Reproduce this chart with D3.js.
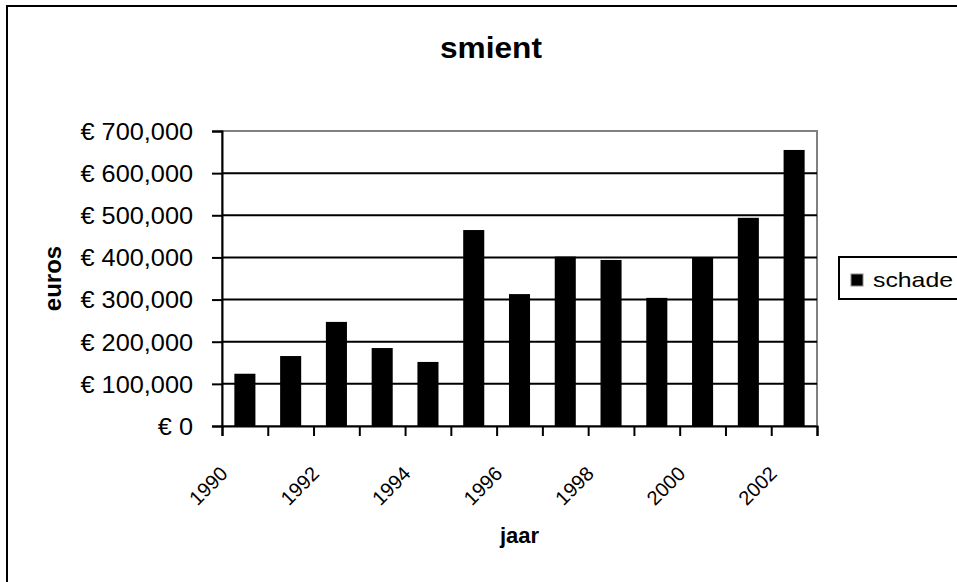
<!DOCTYPE html>
<html>
<head>
<meta charset="utf-8">
<script src="https://cdn.jsdelivr.net/npm/d3@7/dist/d3.min.js"></script>
<style>
  html, body { margin: 0; padding: 0; background: #fff; }
  svg { display: block; font-family: "Liberation Sans", Arial, sans-serif; }
</style>
</head>
<body>
<svg id="chart" width="957" height="582"></svg>
<script>
// ---- data ----
const years = ["1990","1991","1992","1993","1994","1995","1996","1997","1998","1999","2000","2001","2002"];
const schade = [124000, 166000, 247000, 185000, 152000, 465000, 313000, 402000, 394000, 304000, 401000, 494000, 655000];
const yTicks = [0, 100000, 200000, 300000, 400000, 500000, 600000, 700000];
const xLabelYears = ["1990","1992","1994","1996","1998","2000","2002"];
const titleText = "smient";
const xTitle = "jaar";
const yTitle = "euros";
const seriesName = "schade";

// ---- layout ----
const plot = { left: 222, right: 817, top: 131, bottom: 426 };
const svg = d3.select("#chart");

// outer border
svg.append("rect")
  .attr("x", 7).attr("y", 6).attr("width", 1000).attr("height", 1000)
  .attr("fill", "#fff").attr("stroke", "#000").attr("stroke-width", 2);

// scales
const x = d3.scaleBand().domain(years).range([plot.left, plot.right]).padding(0);
const xBar = d3.scaleBand().domain(years).range([plot.left, plot.right])
  .paddingInner(0.54).paddingOuter(0.27);
const xBound = d3.scaleLinear().domain([0, years.length]).range([plot.left, plot.right]);
const y = d3.scaleLinear().domain([0, 700000]).range([plot.bottom, plot.top]);

// plot area frame (gray top/right)
svg.append("rect")
  .attr("x", plot.left).attr("y", plot.top)
  .attr("width", plot.right - plot.left).attr("height", plot.bottom - plot.top)
  .attr("fill", "#fff").attr("stroke", "#808080").attr("stroke-width", 2);

// gridlines
svg.append("g").selectAll("line")
  .data(yTicks.filter(v => v > 0 && v < 700000))
  .join("line")
  .attr("x1", plot.left).attr("x2", plot.right)
  .attr("y1", d => y(d)).attr("y2", d => y(d))
  .attr("stroke", "#000").attr("stroke-width", 2);

// bars
svg.append("g").selectAll("rect")
  .data(years.map((yr, i) => ({ yr, v: schade[i] })))
  .join("rect")
  .attr("x", d => xBar(d.yr))
  .attr("width", xBar.bandwidth())
  .attr("y", d => y(d.v))
  .attr("height", d => y(0) - y(d.v))
  .attr("fill", "#000");

// y axis
const fmt = d => "€ " + d3.format(",")(d);
const yAxis = svg.append("g")
  .attr("transform", `translate(${plot.left},0)`)
  .call(d3.axisLeft(y).tickValues(yTicks).tickFormat(fmt).tickSize(10).tickPadding(0));
yAxis.select(".domain").attr("stroke", "#000").attr("stroke-width", 2);
yAxis.selectAll(".tick line").attr("stroke", "#000").attr("stroke-width", 2);
yAxis.selectAll(".tick text")
  .attr("x", 0)
  .attr("dy", "0.36em")
  .attr("transform", "translate(-29,0) scale(1.1,1)")
  .attr("font-size", 23)
  .attr("font-family", "Liberation Sans, Arial, sans-serif")
  .attr("fill", "#000");

// x axis (tick marks at category boundaries)
const xAxis = svg.append("g")
  .attr("transform", `translate(0,${plot.bottom})`)
  .call(d3.axisBottom(xBound).tickValues(d3.range(years.length + 1)).tickFormat("").tickSize(10));
xAxis.select(".domain").attr("stroke", "#000").attr("stroke-width", 2);
xAxis.selectAll(".tick line").attr("stroke", "#000").attr("stroke-width", 2);

// x labels (rotated)
svg.append("g").selectAll("text")
  .data(xLabelYears)
  .join("text")
  .attr("transform", d => `translate(${x(d) + x.bandwidth() / 2 - 16},${plot.bottom + 49}) rotate(-45)`)
  .attr("text-anchor", "end")
  .attr("font-size", 20)
  .attr("fill", "#000")
  .text(d => d);

// title
svg.append("text")
  .attr("x", 491).attr("y", 58)
  .attr("text-anchor", "middle")
  .attr("font-size", 30).attr("font-weight", "bold")
  .attr("textLength", 102).attr("lengthAdjust", "spacingAndGlyphs")
  .text(titleText);

// x title
svg.append("text")
  .attr("x", (plot.left + plot.right) / 2).attr("y", 543)
  .attr("text-anchor", "middle")
  .attr("font-size", 22).attr("font-weight", "bold")
  .text(xTitle);

// y title
svg.append("text")
  .attr("transform", `translate(61,${(plot.top + plot.bottom) / 2}) rotate(-90)`)
  .attr("text-anchor", "middle")
  .attr("font-size", 24).attr("font-weight", "bold")
  .text(yTitle);

// legend
const lg = svg.append("g");
lg.append("rect")
  .attr("x", 839).attr("y", 257).attr("width", 130).attr("height", 42)
  .attr("fill", "#fff").attr("stroke", "#000").attr("stroke-width", 2);
lg.append("rect")
  .attr("x", 851).attr("y", 274).attr("width", 12).attr("height", 12)
  .attr("fill", "#000").attr("stroke", "#888").attr("stroke-width", 1);
lg.append("text")
  .attr("x", 873).attr("y", 287)
  .attr("font-size", 21)
  .attr("textLength", 80).attr("lengthAdjust", "spacingAndGlyphs")
  .text(seriesName);
</script>
</body>
</html>
